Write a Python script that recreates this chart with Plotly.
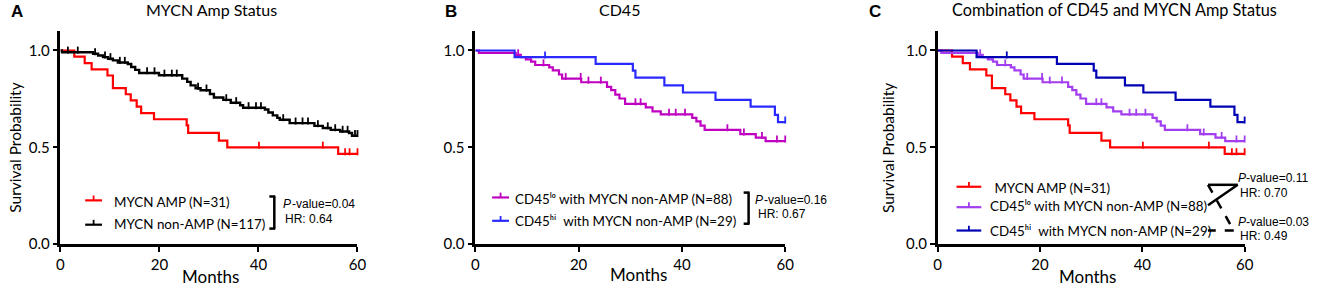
import plotly.graph_objects as go

W, H = 1320, 293

# ---------------- data ----------------
# MYCN AMP (N=31): event times (months) and survival after each event
amp_t = [2.8, 4.9, 6.3, 9.5, 10.6, 13.2, 14.2, 15.4, 16.3, 18.9, 25.5, 25.8, 32.0, 33.7, 56.1]
amp_s = [0.968, 0.935, 0.903, 0.871, 0.806, 0.774, 0.742, 0.71, 0.677, 0.645, 0.613, 0.575, 0.535, 0.5, 0.466]
amp_c = [40.1, 53.0, 57.5, 58.4, 60.0]

# MYCN non-AMP (N=117)
non_t = [0.3, 6.6, 7.6, 8.6, 9.6, 10.6, 11.6, 13.6, 14.3, 15.1, 15.9, 19.9, 24.6, 25.6, 26.3, 27.3,
         28.3, 30.2, 31.0, 32.9, 34.4, 36.3, 36.9, 41.3, 42.0, 42.9, 43.8, 44.3, 46.3, 51.3, 53.0,
         54.6, 56.5, 58.3, 58.9]
non_s = [0.991, 0.983, 0.974, 0.966, 0.957, 0.949, 0.938, 0.93, 0.915, 0.9, 0.884, 0.872, 0.855,
         0.838, 0.82, 0.805, 0.795, 0.775, 0.757, 0.745, 0.73, 0.717, 0.704, 0.695, 0.68, 0.665,
         0.652, 0.642, 0.625, 0.611, 0.6, 0.59, 0.582, 0.574, 0.56]
non_c = [1.5, 3.5, 7.0, 9.0, 10.1, 12.0, 13.0, 17.5, 19.0, 21.0, 22.5, 23.5, 27.8, 29.5, 33.5, 35.5,
         38.0, 39.5, 40.5, 45.0, 47.5, 48.9, 50.0, 52.0, 54.0, 55.5, 57.0, 58.0, 59.5, 60.0]

# CD45lo with MYCN non-AMP (N=88)
lo_t = [0.7, 7.8, 8.8, 9.8, 10.8, 11.6, 14.3, 15.0, 16.2, 16.8, 20.5, 25.5, 26.3, 27.1, 27.9, 29.0,
        33.0, 34.3, 35.9, 42.0, 42.8, 43.6, 44.4, 51.3, 54.3, 56.2]
lo_s = [0.988, 0.977, 0.966, 0.954, 0.943, 0.925, 0.913, 0.897, 0.876, 0.855, 0.836, 0.812, 0.795,
        0.772, 0.752, 0.724, 0.706, 0.686, 0.67, 0.652, 0.634, 0.612, 0.59, 0.568, 0.55, 0.532]
lo_c = [8.3, 13.2, 17.5, 20.4, 21.9, 24.3, 31.0, 32.0, 37.5, 38.8, 40.6, 48.8, 52.0, 55.5, 58.4, 60.0]

# CD45hi with MYCN non-AMP (N=29)
hi_t = [7.6, 23.3, 30.5, 31.0, 36.6, 40.2, 46.5, 53.3, 58.0, 58.6]
hi_s = [0.966, 0.931, 0.896, 0.86, 0.82, 0.783, 0.745, 0.71, 0.668, 0.63]
hi_c = [13.5, 60.0]

x_ticks = [0, 20, 40, 60]
y_ticks = [0, 0.5, 1.0]
y_tick_text = ["0.0", "0.5", "1.0"]

RED = "#ff0000"
BLACK = "#000000"
MAG = "#c000c0"
BLUE_B = "#2a2aff"
PURP = "#a33ef0"
NAVY = "#0000b4"

CAL = "Lato"
ARIAL = "Liberation Sans, Arial"
LEG = 13.4


def px(x):
    return x / W


def py(y):
    return 1 - y / H


def surv_at(t, times, surv):
    s = 1.0
    for ti, si in zip(times, surv):
        if ti <= t:
            s = si
    return s


fig = go.Figure()


def add_curve(ax, times, surv, cens, color, width=2.2):
    xs = [0] + list(times) + [60]
    ys = [1.0] + list(surv) + [surv[-1]]
    xa = "x" if ax == 1 else f"x{ax}"
    ya = "y" if ax == 1 else f"y{ax}"
    fig.add_trace(go.Scatter(x=xs, y=ys, mode="lines", line=dict(color=color, width=width, shape="hv"),
                             xaxis=xa, yaxis=ya, showlegend=False, cliponaxis=False, hoverinfo="skip"))
    cy = [surv_at(c, times, surv) + 0.011 for c in cens]
    fig.add_trace(go.Scatter(x=cens, y=cy, mode="markers",
                             marker=dict(symbol="line-ns", size=5, line=dict(color=color, width=1.8)),
                             xaxis=xa, yaxis=ya, showlegend=False, cliponaxis=False, hoverinfo="skip"))


# Panel A
add_curve(1, amp_t, amp_s, amp_c, RED)
add_curve(1, non_t, non_s, non_c, BLACK, 2.4)
# Panel B
add_curve(2, lo_t, lo_s, lo_c, MAG)
add_curve(2, hi_t, hi_s, hi_c, BLUE_B)
# Panel C
add_curve(3, amp_t, amp_s, amp_c, RED)
add_curve(3, lo_t, lo_s, lo_c, PURP)
add_curve(3, hi_t, hi_s, hi_c, NAVY)

domains = [(57, 357), (476, 789), (943, 1253)]
ydom = [py(251), py(32)]

axis_common = dict(showline=True, linewidth=2.5, linecolor="black", ticks="outside", ticklen=5,
                   tickwidth=2, tickcolor="black", showgrid=False, zeroline=False,
                   tickfont=dict(family=CAL, size=15, color="black"))
layout_axes = {}
for i, (a, b) in enumerate(domains, start=1):
    xk = "xaxis" if i == 1 else f"xaxis{i}"
    yk = "yaxis" if i == 1 else f"yaxis{i}"
    layout_axes[xk] = dict(axis_common, domain=[px(a), px(b)], range=[0, 60], tickvals=x_ticks,
                           anchor="y" if i == 1 else f"y{i}")
    layout_axes[yk] = dict(axis_common, domain=ydom, range=[0, 1.1], tickvals=y_ticks,
                           ticktext=y_tick_text, anchor="x" if i == 1 else f"x{i}")

annotations = []


def ann(text, x, y, size, family=CAL, xanchor="left", yanchor="middle", weight="normal",
        style="normal", angle=0):
    annotations.append(dict(text=text, x=px(x), y=py(y),
                            xref="paper", yref="paper", showarrow=False, xanchor=xanchor,
                            yanchor=yanchor, textangle=angle, borderpad=0,
                            font=dict(family=family, size=size, color="black", weight=weight,
                                      style=style)))


def pval(text, x, y):
    # italic "P" followed by the rest
    ann("P", x + 8, y, 12, ARIAL, xanchor="right", style="italic")
    ann(text, x + 6.5, y, 12, ARIAL)


# panel letters and titles
ann("A", 6, 12, 17, ARIAL, weight="bold")
ann("B", 444, 12, 17, ARIAL, weight="bold")
ann("C", 873, 12, 17, ARIAL, weight="bold")
ann("MYCN Amp Status", 210, 10, 16, xanchor="center")
ann("CD45", 622, 10, 16, xanchor="center")
ann("Combination of CD45 and MYCN Amp Status", 1122, 10, 16.3, xanchor="center")

# axis titles
ann("Survival Probability", 11, 152, 15.5, xanchor="center", angle=-90)
ann("Survival Probability", 893, 152, 15.5, xanchor="center", angle=-90)
ann("Months", 209, 284, 17, xanchor="center")
ann("Months", 641, 282, 17, xanchor="center")
ann("Months", 1094, 284, 17, xanchor="center")

# legends text
LO = "CD45\u02e1\u1d52 with MYCN non-AMP (N=88)"
HI = "CD45\u02b0\u2071  with MYCN non-AMP (N=29)"
ann("MYCN AMP (N=31)", 110, 208, LEG)
ann("MYCN non-AMP (N=117)", 110, 230, LEG)
ann(LO, 515, 205, LEG)
ann(HI, 515, 227, LEG)
ann(" MYCN AMP (N=31)", 996, 193, LEG)
ann(LO, 995, 212, LEG)
ann(HI, 995, 237, LEG)

# statistics text
pval("-value=0.04", 283, 210)
ann("HR: 0.64", 283, 225, 12, ARIAL)
pval("-value=0.16", 760, 206)
ann("HR: 0.67", 760, 220, 12, ARIAL)
pval("-value=0.11", 1247, 183)
ann("HR: 0.70", 1247, 198, 12, ARIAL)
pval("-value=0.03", 1247, 228)
ann("HR: 0.49", 1247, 243, 12, ARIAL)

shapes = []


def seg(x0, y0, x1, y1, color="black", width=2.5, dash="solid"):
    shapes.append(dict(type="line", xref="paper", yref="paper", x0=px(x0), y0=py(y0), x1=px(x1),
                       y1=py(y1), line=dict(color=color, width=width, dash=dash)))


def legend_sample(x0, x1, y, color):
    seg(x0, y, x1, y, color, 2.2)
    xm = (x0 + x1) / 2
    seg(xm, y, xm, y - 5, color, 1.8)


legend_sample(82, 99, 206, RED)
legend_sample(82, 99, 231, BLACK)
legend_sample(493, 510, 203, MAG)
legend_sample(493, 510, 227, BLUE_B)
legend_sample(962, 987, 192, RED)
legend_sample(962, 987, 213, PURP)
legend_sample(962, 987, 237, NAVY)

# brackets
seg(273, 202, 273, 235)
seg(268, 202, 274, 202)
seg(268, 235, 274, 235)
seg(752, 198, 752, 230)
seg(747, 198, 753, 198)
seg(747, 230, 753, 230)
# panel C connectors
seg(1216, 190, 1246, 190)
seg(1246, 190, 1216, 211)
seg(1216, 190, 1242, 237, dash="dash")
seg(1242, 237, 1216, 237, dash="dash")

fig.update_layout(
    width=W, height=H, margin=dict(l=0, r=0, t=0, b=0),
    paper_bgcolor="white", plot_bgcolor="white",
    annotations=annotations, shapes=shapes, showlegend=False,
    **layout_axes,
)

fig.write_html("out.html", config={"displayModeBar": False},
               post_script="document.body.style.margin='0';document.body.style.overflow='hidden';")
